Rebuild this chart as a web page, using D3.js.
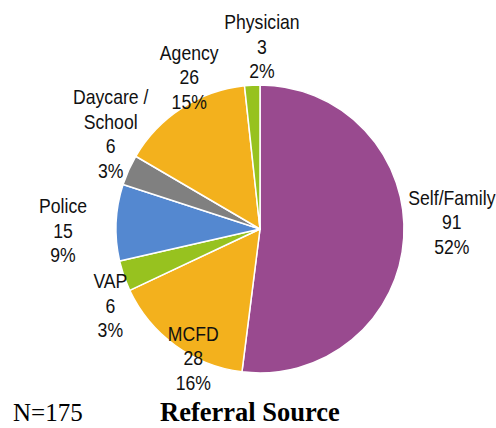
<!DOCTYPE html>
<html>
<head>
<meta charset="utf-8">
<script src="https://cdn.jsdelivr.net/npm/d3@7"></script>
<style>
  body { margin: 0; background: #fff; }
  svg { display: block; }
</style>
</head>
<body>
<svg id="chart"></svg>
<script>
// referral sources, clockwise from 12 o'clock
const categories = ["Self/Family", "MCFD", "VAP", "Police", "Daycare /\nSchool", "Agency", "Physician"];
const counts = [91, 28, 6, 15, 6, 26, 3];
const percents = ["52%", "16%", "3%", "9%", "3%", "15%", "2%"];
const colors = ["#994A8F", "#F3B11D", "#97C21F", "#5488D0", "#808080", "#F3B11D", "#97C21F"];

// label placement: radius from centre, angle tweak (deg) from slice middle
const labelRadius = [192, 145, 168, 197, 171, 168, 183];
const labelTweak = [-5.7, -8.6, -8, -3, 5, 8, 3.7];

const w = 496, h = 428;
const cx = 260, cy = 229, r = 144;
const lineH = 24.5;

const svg = d3.select("#chart").attr("width", w).attr("height", h);

const pie = d3.pie().sort(null).value(d => d)(counts);
const arc = d3.arc().innerRadius(0).outerRadius(r);

const g = svg.append("g").attr("transform", "translate(" + cx + "," + cy + ")");

g.selectAll("path")
  .data(pie)
  .enter()
  .append("path")
  .attr("d", arc)
  .attr("fill", (d, i) => colors[i])
  .attr("stroke", "#fff")
  .attr("stroke-width", 1.5)
  .attr("stroke-linejoin", "round");

// labels: name(s), count, percent (narrowed like the original)
pie.forEach((d, i) => {
  const mid = (d.startAngle + d.endAngle) / 2 + labelTweak[i] * Math.PI / 180;
  const x = Math.sin(mid) * labelRadius[i];
  const y = -Math.cos(mid) * labelRadius[i];
  const lines = categories[i].split("\n").concat([String(counts[i]), percents[i]]);
  const countIdx = lines.length - 2;
  const t = g.append("text")
    .attr("transform", "translate(" + x + "," + y + ") scale(0.86,1)")
    .attr("text-anchor", "middle")
    .attr("font-family", "'Liberation Sans', Arial, sans-serif")
    .attr("font-size", 20.5)
    .attr("fill", "#111");
  lines.forEach((s, k) => {
    t.append("tspan")
      .attr("x", 0)
      .attr("y", (k - countIdx) * lineH + 7.5)
      .text(s);
  });
});

// footer
svg.append("text")
  .attr("x", 13)
  .attr("y", 421)
  .attr("font-family", "'Liberation Serif', 'Times New Roman', serif")
  .attr("font-size", 25)
  .attr("fill", "#000")
  .text("N=175");

svg.append("text")
  .attr("x", 160)
  .attr("y", 421)
  .attr("font-family", "'Liberation Serif', 'Times New Roman', serif")
  .attr("font-size", 26.5)
  .attr("font-weight", "bold")
  .attr("fill", "#000")
  .text("Referral Source");
</script>
</body>
</html>
